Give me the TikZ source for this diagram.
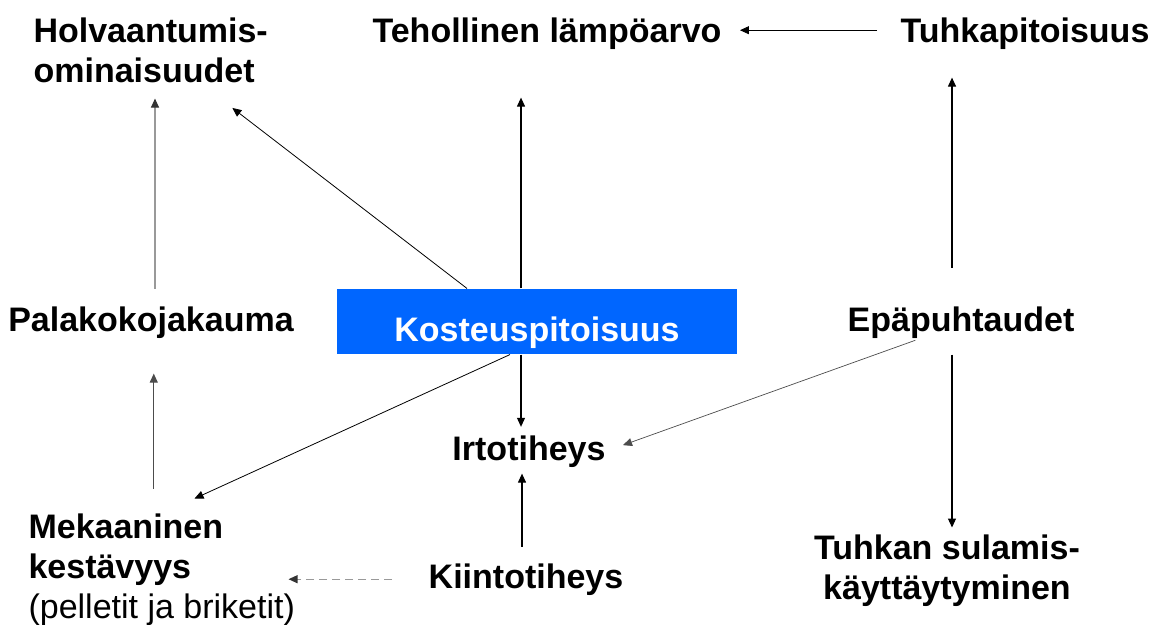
\documentclass[tikz,border=0pt]{standalone}
\usepackage{fontspec}
\setmainfont{Liberation Sans}
\usetikzlibrary{arrows.meta}
\definecolor{kblue}{HTML}{0066FF}

\begin{document}
\begin{tikzpicture}[
		x=1pt, y=-1pt,
		>={Triangle[length=9pt, width=8pt]},
		line width=1.1pt,
		main/.style = {inner sep=0pt, font=\fontsize{34}{40}\selectfont\bfseries},
		box/.style = {main, fill=kblue, text=white, minimum width=400pt, text height=52pt, text depth=13pt},
		faint/.style = {draw=black!40, -{Triangle[length=9pt, width=8pt, black!80]}},
		soft/.style = {draw=black!70}
	]
	\useasboundingbox (0,0) rectangle (1153,624);
	\node[main, anchor=north west, align=left] (holva) at (33,17.5) {Holvaantumis-\\ominaisuudet};
	\node[main, anchor=base] (teho) at (547,42) {Tehollinen lämpöarvo};
	\node[main, anchor=base] (tuhka) at (1025,42) {Tuhkapitoisuus};
	\node[main, anchor=base] (pala) at (151,331) {Palakokojakauma};
	\node[box, anchor=base] (kost) at (537,341) {Kosteuspitoisuus};
	\node[main, anchor=base] (epa) at (961,331) {Epäpuhtaudet};
	\node[main, anchor=base] (irto) at (529,460) {Irtotiheys};
	\node[main, anchor=base] (kiin) at (526,588) {Kiintotiheys};
	\node[main, anchor=north west, align=left] (meka) at (28,513.5) {Mekaaninen\\kestävyys\\\mdseries (pelletit ja briketit)};
	\node[main, anchor=north, align=center] (tsul) at (947,534.5) {Tuhkan sulamis-\\käyttäytyminen};
	\draw[->, line width=0.8pt, shorten <=23pt, shorten >=18pt] ([yshift=3pt]tuhka.west) -- ([yshift=3pt]teho.east);
	\draw[faint, shorten <=17pt, shorten >=15pt] ([xshift=4pt]pala.north) -- ([xshift=4pt]pala.north |- holva.south);
	\draw[->, line width=0.8pt, shorten >=40pt] ([xshift=-70pt]kost.north) -- ([xshift=50pt]holva.south);
	\draw[->, shorten >=48pt] ([xshift=-16pt]kost.north) -- ([xshift=-16pt]kost.north |- teho.south);
	\draw[->, shorten <=38pt, shorten >=28pt] ([xshift=-9pt]epa.north) -- ([xshift=-9pt]epa.north |- tuhka.south);
	\draw[->, shorten <=16pt, shorten >=7pt] ([xshift=-9pt]epa.south) -- ([xshift=-9pt]epa.south |- tsul.north);
	\draw[->, soft, line width=0.7pt, shorten <=5pt, shorten >=18pt] ([xshift=-41pt]epa.south) -- (irto.east);
	\draw[->, shorten >=8pt] ([xshift=-16pt]kost.south) -- ([xshift=-16pt]kost.south |- irto.north);
	\draw[->, line width=0.8pt, shorten >=36pt] ([xshift=-27pt]kost.south) -- (meka.north);
	\draw[->, soft, shorten <=25pt, shorten >=35pt] ([xshift=-8pt]meka.north) -- ([xshift=-8pt]meka.north |- pala.south);
	\draw[->, shorten <=16pt, shorten >=6pt] ([xshift=-4pt]kiin.north) -- ([xshift=-4pt]kiin.north |- irto.south);
	\draw[faint, dash pattern=on 8pt off 5pt, shorten <=36pt, shorten >=-7pt] (kiin.west) -- (kiin.west -| meka.east);
\end{tikzpicture}
\end{document}
